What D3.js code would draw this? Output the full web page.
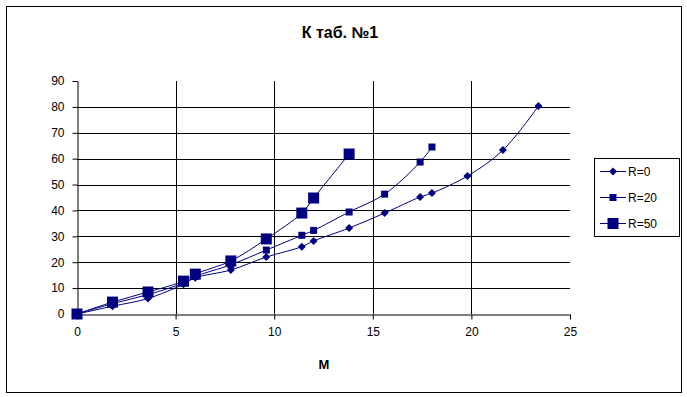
<!DOCTYPE html>
<html>
<head>
<meta charset="utf-8">
<script src="https://cdn.jsdelivr.net/npm/d3@7"></script>
<style>
  body { margin: 0; background: #fff; }
  svg { display: block; font-family: Arial, "Liberation Sans", sans-serif; }
</style>
</head>
<body>
<div id="chart"></div>
<script>
(function(d3) {

  // Data.
  var seriesNames = ['R=0', 'R=20', 'R=50'];
  var xR0  = [0, 1.8, 3.6, 5.4, 6.0, 7.8, 9.6, 11.4, 12.0, 13.8, 15.6, 17.4, 18.0, 19.8, 21.6, 23.4];
  var yR0  = [0, 3.0, 6.0, 11.5, 14.0, 17.0, 22.0, 26.0, 28.2, 33.2, 39.0, 45.2, 46.7, 53.3, 63.3, 80.3];
  var xR20 = [0, 1.8, 3.6, 5.4, 6.0, 7.8, 9.6, 11.4, 12.0, 13.8, 15.6, 17.4, 18.0];
  var yR20 = [0, 4.0, 7.5, 12.0, 14.5, 19.0, 24.7, 30.4, 32.3, 39.4, 46.3, 58.7, 64.5];
  var xR50 = [0, 1.8, 3.6, 5.4, 6.0, 7.8, 9.6, 11.4, 12.0, 13.8];
  var yR50 = [0, 4.6, 8.5, 12.7, 15.4, 20.5, 29.0, 39.0, 44.8, 61.8];
  var xTicks = [0, 5, 10, 15, 20, 25];
  var yTicks = [0, 10, 20, 30, 40, 50, 60, 70, 80, 90];

  var navy = '#000080';
  var width = 687, height = 397;
  var margin = { left: 77, right: 117, top: 81, bottom: 83 };

  var series = [
    { name: seriesNames[0], xs: xR0,  ys: yR0,  marker: 'diamond', size: 4 },
    { name: seriesNames[1], xs: xR20, ys: yR20, marker: 'square',  size: 3.5 },
    { name: seriesNames[2], xs: xR50, ys: yR50, marker: 'square',  size: 5.5 }
  ];

  var svg = d3.select('#chart').append('svg')
    .attr('width', width)
    .attr('height', height);

  // Outer chart border.
  svg.append('rect')
    .attr('x', 6.5).attr('y', 6.5)
    .attr('width', 675).attr('height', 386)
    .attr('fill', '#fff')
    .attr('stroke', '#000');

  var x = d3.scaleLinear()
    .domain([0, 25])
    .range([margin.left, width - margin.right]);

  var y = d3.scaleLinear()
    .domain([0, 90])
    .range([height - margin.bottom, margin.top]);

  // Gridlines (not at the top / right edges).
  svg.append('g').selectAll('line.h')
    .data(yTicks.filter(function(t) { return t > 0 && t < 90; }))
    .enter().append('line')
      .attr('x1', x(0)).attr('x2', x(25))
      .attr('y1', function(d) { return Math.round(y(d)) + 0.5; })
      .attr('y2', function(d) { return Math.round(y(d)) + 0.5; })
      .attr('stroke', '#000');

  svg.append('g').selectAll('line.v')
    .data(xTicks.filter(function(t) { return t > 0 && t < 25; }))
    .enter().append('line')
      .attr('x1', function(d) { return Math.round(x(d)) + 0.5; })
      .attr('x2', function(d) { return Math.round(x(d)) + 0.5; })
      .attr('y1', y(0)).attr('y2', y(90))
      .attr('stroke', '#000');

  // Axes.
  var xAxis = d3.axisBottom(x).tickValues(xTicks).tickSize(5).tickPadding(6).tickSizeOuter(0);
  var yAxis = d3.axisLeft(y).tickValues(yTicks).tickSize(5).tickPadding(8).tickSizeOuter(0);

  var gx = svg.append('g')
    .attr('transform', 'translate(0,' + (Math.round(y(0)) + 0.5) + ')')
    .call(xAxis);
  var gy = svg.append('g')
    .attr('transform', 'translate(' + (Math.round(x(0)) + 0.5) + ',0)')
    .call(yAxis);

  [gx, gy].forEach(function(g) {
    g.selectAll('path, line').attr('stroke', '#000');
    g.selectAll('text')
      .attr('fill', '#000')
      .style('font-size', '12px')
      .style('font-family', 'Arial, "Liberation Sans", sans-serif');
  });
  gx.selectAll('text').attr('dy', '0.9em');

  // Lines.
  var line = d3.line()
    .x(function(d) { return x(d[0]); })
    .y(function(d) { return y(d[1]); })
    .curve(d3.curveCatmullRom.alpha(0.5));

  function drawMarker(g, type, s) {
    if (type === 'diamond') {
      g.append('path')
        .attr('d', 'M0,' + (-s) + 'L' + s + ',0L0,' + s + 'L' + (-s) + ',0Z')
        .attr('fill', navy);
    } else {
      g.append('rect')
        .attr('x', -s).attr('y', -s)
        .attr('width', 2 * s).attr('height', 2 * s)
        .attr('fill', navy);
    }
  }

  series.forEach(function(s) {
    var pts = s.xs.map(function(v, i) { return [v, s.ys[i]]; });

    svg.append('path')
      .attr('d', line(pts))
      .attr('fill', 'none')
      .attr('stroke', navy)
      .attr('stroke-width', 1);

    pts.forEach(function(p) {
      var g = svg.append('g')
        .attr('transform', 'translate(' + x(p[0]) + ',' + y(p[1]) + ')');
      drawMarker(g, s.marker, s.size);
    });
  });

  // Title.
  svg.append('text')
    .attr('x', 340).attr('y', 38)
    .attr('text-anchor', 'middle')
    .style('font-size', '16px')
    .style('font-weight', 'bold')
    .text('К таб. №1');

  // X axis title.
  svg.append('text')
    .attr('x', 324).attr('y', 369)
    .attr('text-anchor', 'middle')
    .style('font-size', '13px')
    .style('font-weight', 'bold')
    .text('M');

  // Legend.
  var legend = svg.append('g');
  legend.append('rect')
    .attr('x', 594.5).attr('y', 158.5)
    .attr('width', 85).attr('height', 78)
    .attr('fill', '#fff')
    .attr('stroke', '#000');

  series.forEach(function(s, i) {
    var ly = 171 + i * 26;
    legend.append('line')
      .attr('x1', 600).attr('x2', 626)
      .attr('y1', ly + 0.5).attr('y2', ly + 0.5)
      .attr('stroke', navy);
    var g = legend.append('g').attr('transform', 'translate(613,' + (ly + 0.5) + ')');
    drawMarker(g, s.marker, s.size);
    legend.append('text')
      .attr('x', 628).attr('y', ly + 4.5)
      .style('font-size', '12px')
      .text(s.name);
  });

})(d3);
</script>
</body>
</html>
